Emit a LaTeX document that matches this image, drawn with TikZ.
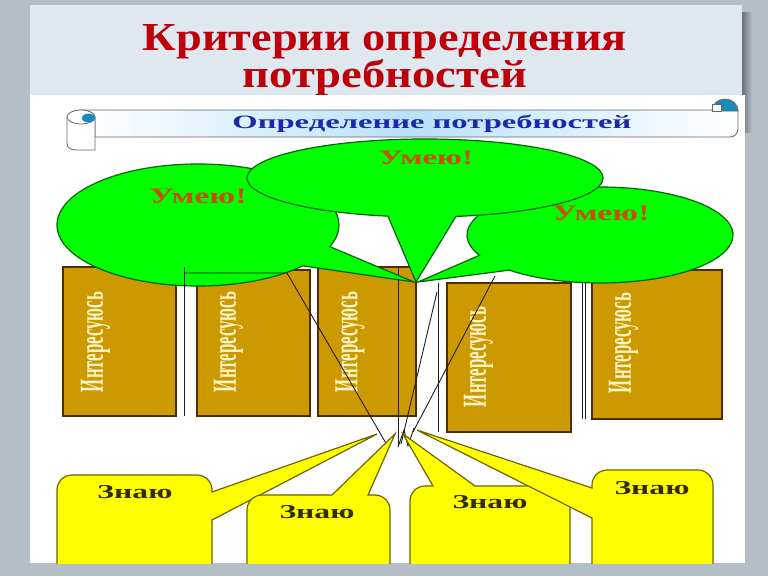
\documentclass[tikz,border=0pt]{standalone}
\usepackage{fontspec}
\setmainfont{Liberation Serif}
\usepackage{graphicx}
\newcommand\fitbox[3]{\resizebox{#1}{#2}{#3}}
\definecolor{bgcol}{RGB}{180,190,198}
\definecolor{titlebg}{RGB}{222,232,238}
\definecolor{shadowcol}{RGB}{100,105,110}
\definecolor{titlered}{RGB}{190,0,10}
\definecolor{bannerblue}{RGB}{30,40,170}
\definecolor{bannermid}{RGB}{185,225,250}
\definecolor{curlblue}{RGB}{20,140,190}
\definecolor{bubgreen}{RGB}{0,255,0}
\definecolor{bubedge}{RGB}{0,100,0}
\definecolor{umeyu}{RGB}{205,75,0}
\definecolor{boxbrown}{RGB}{204,153,0}
\definecolor{boxedge}{RGB}{80,45,0}
\definecolor{boxtext}{RGB}{255,245,200}
\definecolor{callyellow}{RGB}{255,255,0}
\definecolor{calledge}{RGB}{110,100,0}
\definecolor{znayu}{RGB}{50,45,0}
\definecolor{wirecol}{RGB}{30,30,30}
\tikzset{
  titletext/.style={text=titlered, font=\bfseries, inner sep=0pt},
  bannerline/.style={draw=black!60, line width=0.8pt},
  bubble/.style={fill=bubgreen, draw=bubedge, line width=1.2pt},
  bubtext/.style={text=umeyu, font=\bfseries, inner sep=0pt, anchor=base},
  brownbox/.style={fill=boxbrown, draw=boxedge, line width=1.2pt, inner sep=0pt, outer sep=0pt, anchor=north west},
  browntext/.style={text=boxtext, font=\bfseries, inner sep=0pt, rotate=90},
  yellowbox/.style={fill=callyellow, draw=calledge, line width=1.2pt},
  yellowtext/.style={text=znayu, font=\bfseries, inner sep=0pt, anchor=base},
  wire/.style={draw=wirecol, line width=0.9pt}
}
\begin{document}
\begin{tikzpicture}[x=1pt,y=-1pt]
\useasboundingbox (0,0) rectangle (768,576);
\fill[bgcol] (0,0) rectangle (768,576);
\fill[left color=shadowcol, right color=bgcol] (741,12) rectangle (752,132);
\fill[titlebg] (30,5) rectangle (742,95);
\node[titletext, anchor=base] (t1) at (385,50) {\fitbox{484pt}{26pt}{Критерии определения}};
\node[titletext, anchor=base] (t2) at (385,87) {\fitbox{284pt}{28pt}{потребностей}};
\fill[white] (30,95) rectangle (745,563);

% scroll banner
\draw[bannerline, left color=white, right color=white, middle color=bannermid]
  (81,110) -- (738,110) -- (738,129) arc[start angle=0,end angle=90,radius=8] -- (95,137) -- (95,117) -- cycle;
\draw[bannerline, fill=white] (67,117) -- (67,143) .. controls (67,149) and (71,150) .. (78,150) -- (95,150) -- (95,117) -- cycle;
\draw[bannerline, fill=white] (81,117) ellipse[x radius=14, y radius=7];
\fill[curlblue] (88.5,118) ellipse[x radius=6.5, y radius=4.5];
\draw[bannerline, fill=curlblue] (712,111) arc[start angle=180,end angle=360,x radius=13,y radius=12] -- cycle;
\draw[bannerline, fill=white] (712,104) rectangle (721,111);
\node[text=bannerblue, font=\bfseries, inner sep=0pt, anchor=base] (ban) at (432,128) {\fitbox{399pt}{13.5pt}{Определение потребностей}};

% brown boxes
\node[brownbox, minimum width=113pt, minimum height=149pt] (b1) at (63,267) {};
\node[brownbox, minimum width=113pt, minimum height=146pt] (b2) at (197,270) {};
\node[brownbox, minimum width=98pt, minimum height=149pt] (b3) at (318,267) {};
\node[brownbox, minimum width=124pt, minimum height=149pt] (b4) at (447,283) {};
\node[brownbox, minimum width=130pt, minimum height=149pt] (b5) at (592,270) {};
\node[browntext] (i1) at (95.5,342) {\fitbox{100pt}{22pt}{Интересуюсь}};
\node[browntext] (i2) at (228.5,342) {\fitbox{100pt}{22pt}{Интересуюсь}};
\node[browntext] (i3) at (350,342) {\fitbox{100pt}{22pt}{Интересуюсь}};
\node[browntext] (i4) at (478.5,357) {\fitbox{100pt}{22pt}{Интересуюсь}};
\node[browntext] (i5) at (623.5,343) {\fitbox{100pt}{22pt}{Интересуюсь}};

% wires below bubbles
\coordinate (v1t) at (398,267); \coordinate (v1b) at (398,447);
\coordinate (v2t) at (438,283); \coordinate (v2b) at (438,432);
\coordinate (v3t) at (582,283); \coordinate (v3b) at (582,419);
\coordinate (v4t) at (585.5,283); \coordinate (v4b) at (585.5,419);
\coordinate (d1t) at (437,292); \coordinate (d1b) at (401,444);
\draw[wire] (v1t) -- (v1b);
\draw[wire] (v2t) -- (v2b);
\draw[wire] (v3t) -- (v3b);
\draw[wire] (v4t) -- (v4b);
\draw[wire] (d1t) -- (d1b);
\coordinate (z1) at (404,430); \coordinate (z2) at (408,446); \coordinate (z3) at (414,428);
\draw[wire] (v1b) -- (z1) -- (z2) -- (z3);

% speech bubbles
\coordinate (btipL) at (414,282);
\coordinate (btipM) at (416,282);
\coordinate (btipR) at (418,282);
\draw[bubble] (198,225) ++(42:141 and 61) arc[start angle=42,end angle=380.8,x radius=141,y radius=61] -- (btipL) -- cycle;
\draw[bubble] (600,235) ++(155:133 and 48) arc[start angle=155,end angle=493,x radius=133,y radius=48] -- (btipR) -- cycle;
\draw[bubble] (425,178) ++(102:178 and 39) arc[start angle=102,end angle=440,x radius=178,y radius=39] -- (btipM) -- cycle;
\node[bubtext] (u1) at (198,203) {\fitbox{97pt}{14.5pt}{Умею!}};
\node[bubtext] (u2) at (426,164) {\fitbox{94pt}{13.5pt}{Умею!}};
\node[bubtext] (u3) at (601,220) {\fitbox{97pt}{14.5pt}{Умею!}};

% wires above bubbles
\coordinate (w1a) at (184,416); \coordinate (w1b) at (184,267);
\coordinate (w2a) at (184,273); \coordinate (w2b) at (287,273); \coordinate (w2c) at (387,445);
\coordinate (w3a) at (495,276); \coordinate (w3b) at (413,432);
\draw[wire] (w1a) -- (w1b);
\draw[wire] (w2a) -- (w2b) -- (w2c);
\draw[wire] (w3a) -- (w3b);

% yellow callouts
\begin{scope}
\clip (30,95) rectangle (745,563);
\coordinate (yt1) at (377,434);
\coordinate (yt2) at (395,434);
\coordinate (yt3) at (403,434);
\coordinate (yt4) at (417,430);
\draw[yellowbox] (57,570) -- (57,490) arc[start angle=180,end angle=270,radius=15] -- (197,475)
  arc[start angle=270,end angle=360,radius=15] -- (212,492) -- (yt1) -- (212,520) -- (212,570) -- cycle;
\draw[yellowbox] (247,570) -- (247,510) arc[start angle=180,end angle=270,radius=15] -- (332,495) -- (yt2)
  -- (368,495) -- (375,495) arc[start angle=270,end angle=360,radius=15] -- (390,570) -- cycle;
\draw[yellowbox] (410,570) -- (410,501) arc[start angle=180,end angle=270,radius=15] -- (433,486) -- (yt3)
  -- (475,486) -- (555,486) arc[start angle=270,end angle=360,radius=15] -- (570,570) -- cycle;
\draw[yellowbox] (592,570) -- (592,518) -- (yt4) -- (592,488) -- (592,485) arc[start angle=180,end angle=270,radius=15]
  -- (698,470) arc[start angle=270,end angle=360,radius=15] -- (713,570) -- cycle;
\end{scope}
\node[yellowtext] (k1) at (135,498) {\fitbox{75pt}{13pt}{Знаю}};
\node[yellowtext] (k2) at (317,518) {\fitbox{75pt}{13pt}{Знаю}};
\node[yellowtext] (k3) at (490,508) {\fitbox{75pt}{13pt}{Знаю}};
\node[yellowtext] (k4) at (652,494) {\fitbox{75pt}{13pt}{Знаю}};
\end{tikzpicture}
\end{document}
